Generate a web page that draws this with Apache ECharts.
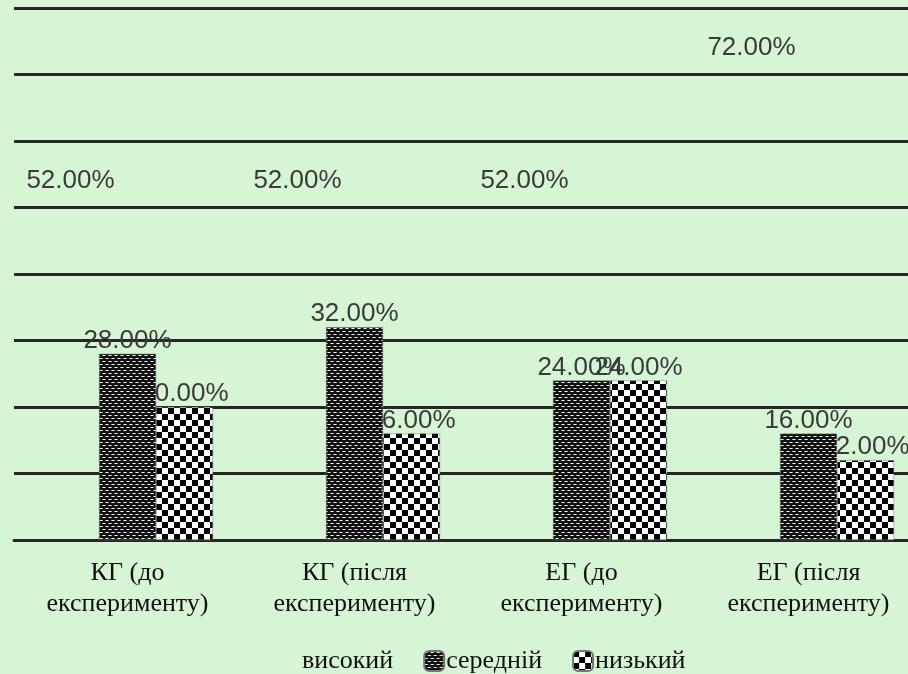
<!DOCTYPE html>
<html>
<head>
<meta charset="utf-8">
<script src="https://cdn.jsdelivr.net/npm/echarts@6/dist/echarts.min.js"></script>
<style>
  html, body { margin: 0; padding: 0; background: #d5f5d5; }
  #chart { width: 908px; height: 674px; }
</style>
</head>
<body>
<div id="chart"></div>
<script>
// Groups and share of students at each level
const categories = ['КГ (до\nексперименту)', 'КГ (після\nексперименту)', 'ЕГ (до\nексперименту)', 'ЕГ (після\nексперименту)'];
const seriesNames = ['високий', 'середній', 'низький'];
const highValues = [52, 52, 52, 72];
const midValues = [28, 32, 24, 16];
const lowValues = [20, 16, 24, 12];
const axisMax = 80;
const axisStep = 10;

// Fill patterns for the bars
function densePattern() {
  const c = document.createElement('canvas');
  c.width = 6; c.height = 6;
  const g = c.getContext('2d');
  g.fillStyle = '#111';
  g.fillRect(0, 0, 6, 6);
  g.fillStyle = '#9a9a9a';
  g.fillRect(0, 1, 4, 1);
  g.fillRect(3, 4, 3, 1);
  g.fillRect(0, 4, 1, 1);
  g.fillStyle = '#f2f2f2';
  g.fillRect(1, 1, 2, 1);
  g.fillRect(4, 4, 2, 1);
  return c;
}
function checkerPattern() {
  const c = document.createElement('canvas');
  c.width = 12; c.height = 12;
  const g = c.getContext('2d');
  g.fillStyle = '#ffffff';
  g.fillRect(0, 0, 12, 12);
  g.fillStyle = '#000000';
  g.fillRect(0, 0, 6, 6);
  g.fillRect(6, 6, 6, 6);
  return c;
}

const chart = echarts.init(document.getElementById('chart'), null, { renderer: 'canvas' });

const labelStyle = {
  show: true,
  position: 'top',
  distance: 0,
  fontFamily: '"Liberation Sans", Arial, sans-serif',
  fontSize: 26,
  color: '#3a3a3a',
  formatter: p => p.value.toFixed(2) + '%'
};

chart.setOption({
  backgroundColor: '#d5f5d5',
  animation: false,
  // the plot runs past the right edge of the canvas
  grid: { left: 14, width: 908, top: 8, bottom: 134, containLabel: false, outerBoundsMode: 'none' },
  legend: {
    left: 275,
    top: 643,
    itemWidth: 20,
    itemHeight: 20,
    itemGap: 30,
    textStyle: { fontFamily: '"Liberation Serif", "Times New Roman", serif', fontSize: 26, color: '#111', padding: [0, 0, 0, -3] },
    data: seriesNames
  },
  xAxis: {
    type: 'category',
    data: categories,
    axisLine: { show: true, lineStyle: { color: '#262626', width: 3 } },
    axisTick: { show: false },
    axisLabel: {
      margin: 18,
      fontFamily: '"Liberation Serif", "Times New Roman", serif',
      fontSize: 26,
      lineHeight: 31,
      color: '#111'
    }
  },
  yAxis: {
    type: 'value',
    min: 0,
    max: axisMax,
    interval: axisStep,
    axisLine: { show: false },
    axisTick: { show: false },
    axisLabel: { show: false },
    splitLine: { show: true, lineStyle: { color: '#262626', width: 3 } }
  },
  series: [
    {
      name: seriesNames[0], type: 'bar', data: highValues,
      barWidth: 57, barGap: '0%', z: 4,
      itemStyle: { color: 'rgba(0,0,0,0)' },
      label: labelStyle
    },
    {
      name: seriesNames[1], type: 'bar', data: midValues,
      barWidth: 57, barGap: '0%', z: 3,
      itemStyle: { color: { image: densePattern(), repeat: 'repeat' }, borderColor: '#777', borderWidth: 0.5 },
      label: labelStyle
    },
    {
      name: seriesNames[2], type: 'bar', data: lowValues,
      barWidth: 57, barGap: '0%', z: 2,
      itemStyle: { color: { image: checkerPattern(), repeat: 'repeat' }, borderColor: '#777', borderWidth: 0.5 },
      label: labelStyle
    }
  ]
});
</script>
</body>
</html>
